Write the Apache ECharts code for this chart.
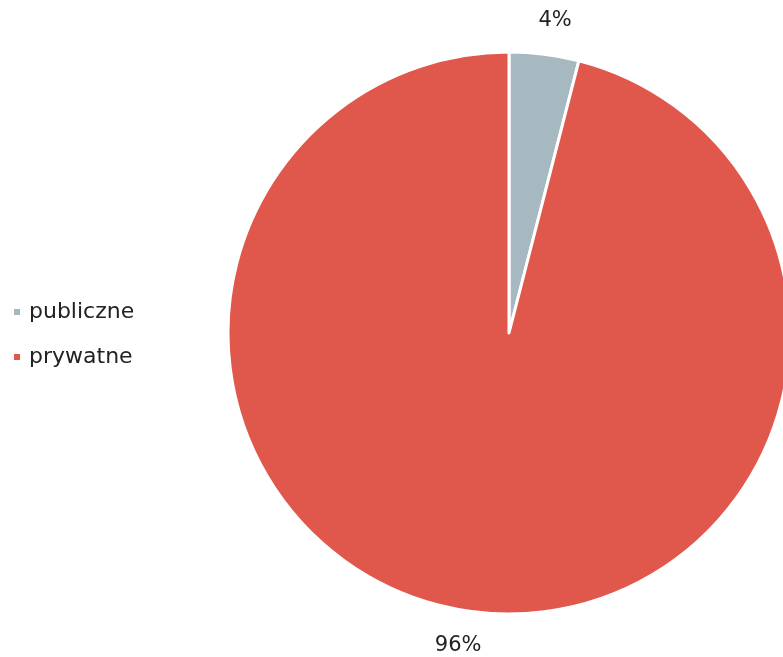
<!DOCTYPE html>
<html><head><meta charset="utf-8">
<script src="https://cdn.jsdelivr.net/npm/echarts@6/dist/echarts.min.js"></script>
<style>html,body{margin:0;padding:0;background:#fff}#c{width:783px;height:657px}</style>
</head><body><div id="c"></div>
<script>
const categories = ['publiczne', 'prywatne'];
const values = [4, 96];
const colors = ['#A6B9C0', '#E0574C'];

const chart = echarts.init(document.getElementById('c'), null, {renderer: 'canvas'});
chart.setOption({
  animation: false,
  color: colors,
  legend: {
    orient: 'vertical',
    left: 12,
    top: 301,
    padding: 0,
    icon: 'rect',
    itemWidth: 8,
    itemHeight: 8,
    itemGap: 23,
    textStyle: {fontFamily: 'DejaVu Sans', fontSize: 22, color: '#222', padding: [0, 0, 0, 3]},
    data: categories
  },
  series: [{
    type: 'pie',
    center: [509, 333],
    radius: 281,
    startAngle: 90,
    clockwise: true,
    itemStyle: {borderColor: '#fff', borderWidth: 3},
    label: {
      show: true,
      position: 'outside',
      formatter: p => p.value + '%',
      fontFamily: 'DejaVu Sans',
      fontSize: 21,
      color: '#222'
    },
    labelLine: {show: false, length: 34, length2: 0},
    labelLayout: function (p) {
      return {dx: p.dataIndex === 0 ? -15 : 17};
    },
    data: categories.map((c, i) => ({name: c, value: values[i]}))
  }]
});
</script></body></html>
